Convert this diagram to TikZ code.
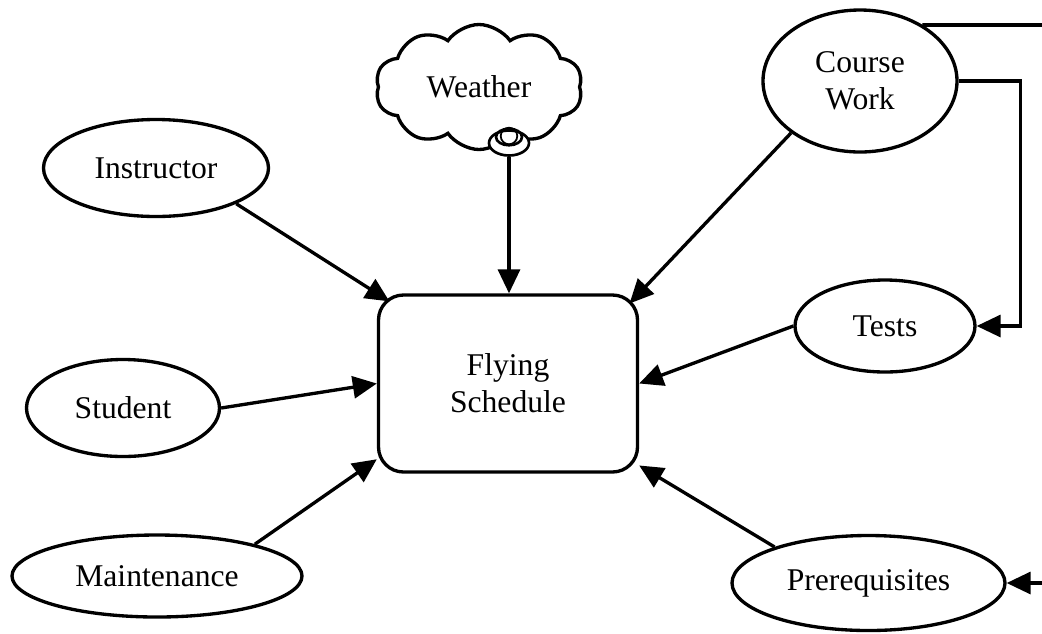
\documentclass[tikz,border=0pt]{standalone}
\usepackage{fontspec}
\setmainfont{Liberation Serif}
\usetikzlibrary{shapes.geometric}
\usetikzlibrary{shapes.symbols}
\usetikzlibrary{arrows.meta}

\begin{document}
\begin{tikzpicture}

\def\LineWidth{1.9pt}
\def\TipLength{0.48cm}
\def\TipWidth{0.44cm}

% Styles
\tikzstyle{base} =
	[font=\fontsize{18}{21}\selectfont, align=center, line width=\LineWidth, inner sep=0pt]

\tikzstyle{entity} =
	[base, draw, ellipse]

\tikzstyle{schedule} =
	[base, draw, rounded corners=0.5cm, minimum width=5.18cm, minimum height=3.54cm]

\tikzstyle{cloudy} =
	[base, draw, cloud, cloud puffs=10, cloud puff arc=110, cloud ignores aspect,
	 minimum width=4.14cm, minimum height=2.5cm]

\tikzstyle{feed} =
	[-{Triangle[length=\TipLength, width=\TipWidth]}, line width=\LineWidth]

\useasboundingbox (0, 0) rectangle (20.84, -12.66);

% Modules

\node (Schedule) at (10.16, -7.67) [schedule] {Flying\\Schedule};

\node (Instructor) at (3.12, -3.36)
	[entity, minimum width=4.5cm, minimum height=1.94cm] {Instructor};
\node (Student) at (2.46, -8.16)
	[entity, minimum width=3.86cm, minimum height=1.94cm] {Student};
\node (Maintenance) at (3.14, -11.52)
	[entity, minimum width=5.8cm, minimum height=1.64cm] {Maintenance};

\node (Weather) at (9.58, -1.74) [cloudy] {Weather};
\node (WeatherTail) at (10.18, -2.86)
	[draw, ellipse, fill=white, line width=1.5pt, minimum width=0.8cm, minimum height=0.5cm] {};
\node (WeatherRing) at (10.18, -2.74)
	[draw, ellipse, line width=1.5pt, minimum width=0.52cm, minimum height=0.22cm] {};
\node (WeatherDot) at (10.18, -2.72)
	[draw, ellipse, line width=1pt, minimum width=0.22cm, minimum height=0.08cm] {};

\node (CourseWork) at (17.2, -1.62)
	[entity, minimum width=3.88cm, minimum height=2.84cm] {Course\\Work};
\node (Tests) at (17.7, -6.52)
	[entity, minimum width=3.6cm, minimum height=1.84cm] {Tests};
\node (Prerequisites) at (17.37, -11.66)
	[entity, minimum width=5.46cm, minimum height=1.9cm] {Prerequisites};

\coordinate (OffTop) at (20.84, -0.5);
\coordinate (OffBottom) at (20.84, -11.66);

% Edges

\draw[feed, shorten >=-0.3cm] (Instructor.-24) -- (Schedule.north west);
\draw[feed] (Student.east) -- (Schedule.west);
\draw[feed] (Maintenance.18) -- (Schedule.210);
\draw[feed] (WeatherTail.south) -- (WeatherTail.south |- Schedule.north);
\draw[feed, shorten >=-0.28cm] (CourseWork.217) -- (Schedule.north east);
\draw[feed] (Tests.west) -- (Schedule.east);
\draw[feed] (Prerequisites.159) -- (Schedule.-32);

\draw[feed] (CourseWork.east) -- ++(1.24, 0) |- (Tests.east);
\draw[line width=\LineWidth] (CourseWork.42) |- (OffTop);
\draw[feed] (OffBottom) -- (Prerequisites.east);

\end{tikzpicture}
\end{document}
